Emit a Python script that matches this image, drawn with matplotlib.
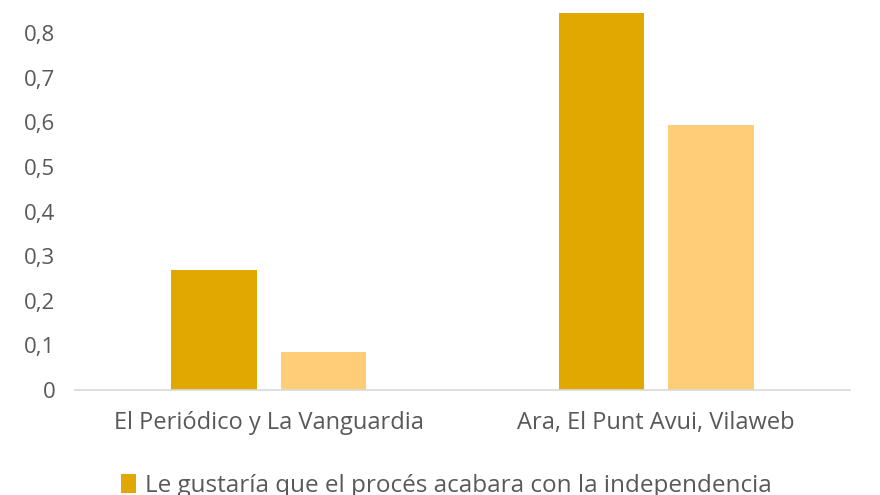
import numpy as np
import matplotlib.pyplot as plt

plt.rcParams['font.family'] = ['Open Sans', 'DejaVu Sans']

# data
categories = ['El Periódico y La Vanguardia', 'Ara, El Punt Avui, Vilaweb']
independencia = [0.27, 0.845]
otra_serie = [0.085, 0.595]
yticks = [0, 0.1, 0.2, 0.3, 0.4, 0.5, 0.6, 0.7, 0.8, 0.9]
ytick_labels = ['0', '0,1', '0,2', '0,3', '0,4', '0,5', '0,6', '0,7', '0,8', '0,9']
legend_label = 'Le gustaría que el procés acabara con la independencia'

dark = '#E0A800'
light = '#FFCC78'
grey = '#595959'

fig = plt.figure(figsize=(8.8, 4.95), dpi=100)
# axes runs a bit past the top edge, like the cropped original
ax = fig.add_axes([0.085, 0.212, 0.881, 0.811])

x = np.arange(len(categories))
w = 0.22
off = 0.141
ax.bar(x - off, independencia, w, color=dark, label=legend_label)
ax.bar(x + off, otra_serie, w, color=light)

ax.set_xlim(-0.5, 1.5)
ax.set_ylim(0, 0.9)
ax.set_yticks(yticks)
ax.set_yticklabels(ytick_labels)
ax.set_xticks(x)
ax.set_xticklabels(categories)
ax.tick_params(axis='y', length=0, pad=14, labelsize=16, labelcolor=grey)
ax.tick_params(axis='x', length=0, pad=15, labelsize=17, labelcolor=grey)

for s in ['top', 'right', 'left']:
    ax.spines[s].set_visible(False)
ax.spines['bottom'].set_color('#D9D9D9')
ax.spines['bottom'].set_linewidth(1.2)

# legend sits on the bottom edge, cut off as in the original
leg = fig.legend(loc='center left', bbox_to_anchor=(0.138, 0.018), frameon=False,
                 fontsize=17.5, handlelength=0.6, handleheight=0.8,
                 handletextpad=0.35, borderaxespad=0, borderpad=0)
for t in leg.get_texts():
    t.set_color(grey)

fig.savefig('out.png', dpi=100)
